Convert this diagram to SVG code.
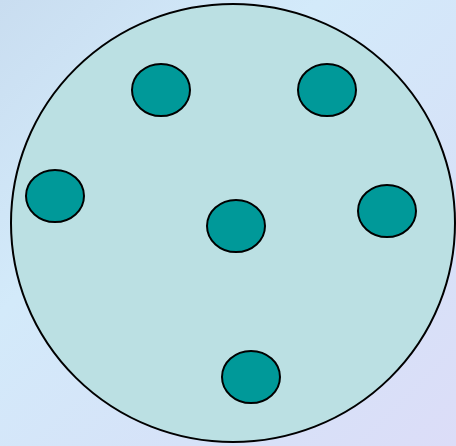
<svg xmlns="http://www.w3.org/2000/svg" width="456" height="446" viewBox="0 0 456 446">
<defs>
<linearGradient id="bg" x1="0" y1="0" x2="1" y2="1">
<stop offset="0" stop-color="#C9DDF0"/>
<stop offset="0.35" stop-color="#D3EAFA"/>
<stop offset="0.7" stop-color="#D6E2F8"/>
<stop offset="1" stop-color="#DCDDF8"/>
</linearGradient>
<style>
.big{fill:#BBE0E3;stroke:#000;stroke-width:2}
.dot{fill:#009999;stroke:#000;stroke-width:2}
</style>
</defs>
<rect width="456" height="446" fill="url(#bg)"/>
<g id="cell"><ellipse class="big" cx="233" cy="223" rx="222" ry="219"/></g>
<g id="n1"><ellipse class="dot" cx="161" cy="90" rx="29" ry="26"/></g>
<g id="n2"><ellipse class="dot" cx="327" cy="90" rx="29" ry="26"/></g>
<g id="n3"><ellipse class="dot" cx="55" cy="196" rx="29" ry="26"/></g>
<g id="n4"><ellipse class="dot" cx="236" cy="226" rx="29" ry="26"/></g>
<g id="n5"><ellipse class="dot" cx="387" cy="211" rx="29" ry="26"/></g>
<g id="n6"><ellipse class="dot" cx="251" cy="377" rx="29" ry="26"/></g>
<g id="connectors"></g>
</svg>
